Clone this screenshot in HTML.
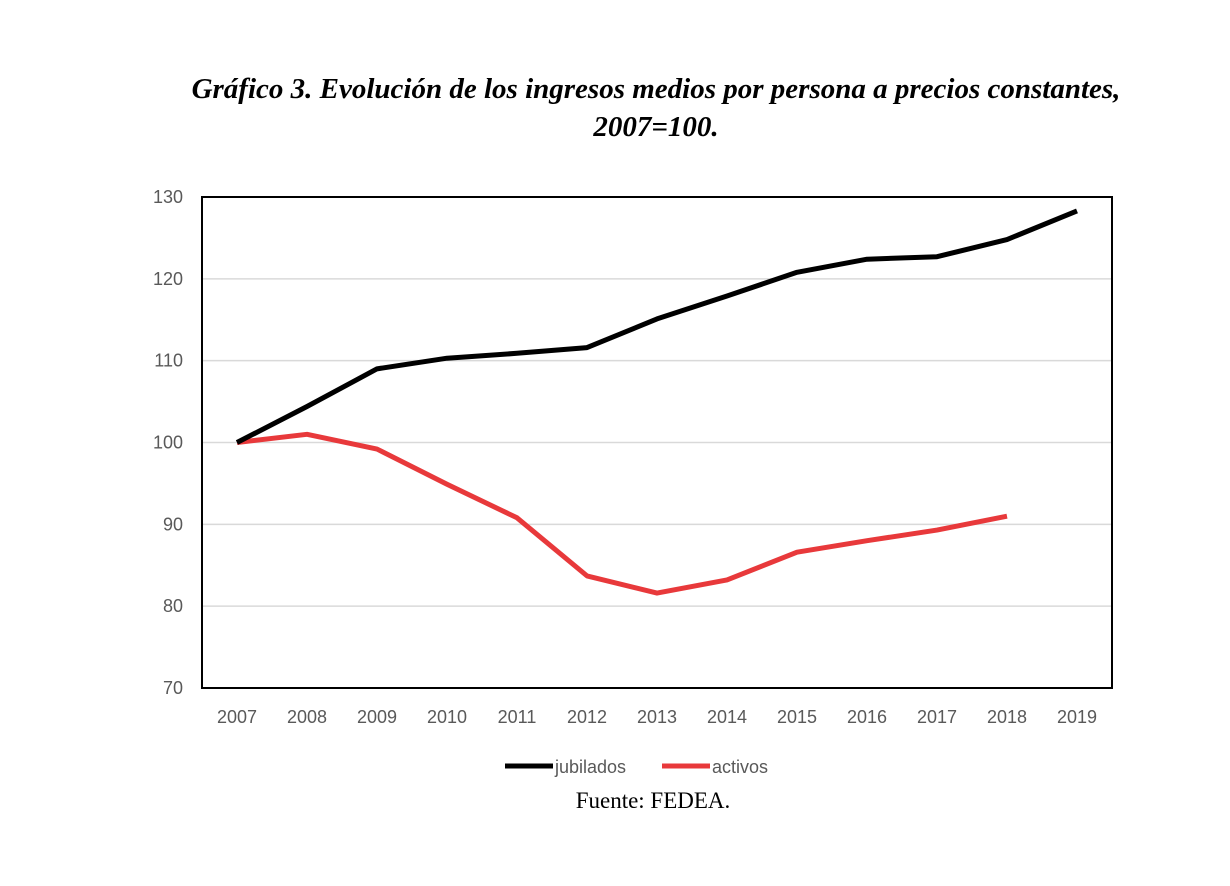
<!DOCTYPE html>
<html><head><meta charset="utf-8"><style>
body{margin:0;background:#fff;width:1230px;height:886px;overflow:hidden}
svg{display:block}
</style></head><body>
<svg width="1230" height="886" viewBox="0 0 1230 886">
<text x="656" y="98" text-anchor="middle" font-family="Liberation Serif, serif" font-weight="bold" font-style="italic" font-size="29">Gráfico 3. Evolución de los ingresos medios por persona a precios constantes,</text>
<text x="656" y="136" text-anchor="middle" font-family="Liberation Serif, serif" font-weight="bold" font-style="italic" font-size="29">2007=100.</text>
<g id="grid"></g>
<g id="axes"></g>
<g id="series"></g>
<rect x="202" y="197" width="910" height="491" fill="none" stroke="#000" stroke-width="2"/>
<g>
<line x1="505" y1="766" x2="553" y2="766" stroke="#000" stroke-width="5"/>
<text x="555" y="773" font-family="Liberation Sans, sans-serif" font-size="18" fill="#595959">jubilados</text>
<line x1="662" y1="766" x2="710" y2="766" stroke="#e8393b" stroke-width="5"/>
<text x="712" y="773" font-family="Liberation Sans, sans-serif" font-size="18" fill="#595959">activos</text>
</g>
<text x="653" y="808" text-anchor="middle" font-family="Liberation Serif, serif" font-size="23">Fuente: FEDEA.</text>
</svg>
<script>
const years=[2007,2008,2009,2010,2011,2012,2013,2014,2015,2016,2017,2018,2019];
const jubilados=[100,104.4,109.0,110.3,110.9,111.6,115.1,117.9,120.8,122.4,122.7,124.8,128.3];
const activos=[100,101.0,99.2,94.9,90.8,83.7,81.6,83.2,86.6,88.0,89.3,91.0];
const yTicks=[70,80,90,100,110,120,130];
const NS="http://www.w3.org/2000/svg";
const x=i=>237+i*70;
const y=v=>688-(v-70)*491/60;
const grid=document.getElementById('grid'),axes=document.getElementById('axes'),ser=document.getElementById('series');
function mk(t,a,p){const e=document.createElementNS(NS,t);for(const k in a)e.setAttribute(k,a[k]);p.appendChild(e);return e;}
yTicks.forEach(v=>{
  if(v>70&&v<130){const g=mk('line',{x1:202,x2:1112,y1:y(v),y2:y(v),stroke:'#d9d9d9','stroke-width':1.5},grid);
  
  }
  const t=mk('text',{x:183,y:y(v)+6,'text-anchor':'end','font-family':'Liberation Sans, sans-serif','font-size':18,fill:'#595959'},axes);
  t.textContent=v;
  
  
});
years.forEach((yr,i)=>{
  const t=mk('text',{x:x(i),y:723,'text-anchor':'middle','font-family':'Liberation Sans, sans-serif','font-size':18,fill:'#595959'},axes);
  t.textContent=yr;
  
  
});
function line(vals,col,name){
  const p=mk('polyline',{points:vals.map((v,i)=>x(i)+','+y(v)).join(' '),fill:'none',stroke:col,'stroke-width':5,'stroke-linejoin':'round'},ser);
  
  
}
line(activos,'#e8393b','line-activos');
line(jubilados,'#000','line-jubilados');
</script>
</body></html>
